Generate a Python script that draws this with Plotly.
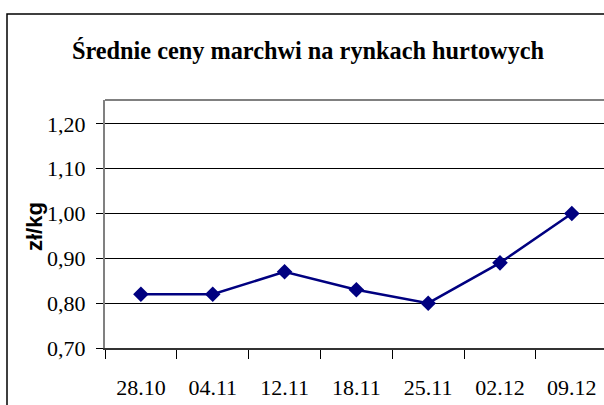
import plotly.graph_objects as go

categories = ["28.10", "04.11", "12.11", "18.11", "25.11", "02.12", "09.12"]
prices = [0.82, 0.82, 0.87, 0.83, 0.80, 0.89, 1.00]
title_text = "Średnie ceny marchwi na rynkach hurtowych"
y_title = "zł/kg"

W, H = 604, 405
ML, MR, MT, MB = 105, 0, 100, 57
pw = W - ML - MR
ph = H - MT - MB

SERIF = "Liberation Serif, Times New Roman, serif"
SANS = "Liberation Sans, Arial, sans-serif"

def px_x(x):
    return (x - ML) / pw

def px_y(y):
    return (H - MB - y) / ph

fig = go.Figure()
fig.add_trace(go.Scatter(
    x=categories, y=prices, mode="lines+markers",
    line=dict(color="#000080", width=2.5),
    marker=dict(symbol="diamond", size=12, color="#000080", line=dict(width=0)),
    hoverinfo="skip", showlegend=False,
))

fig.update_layout(
    width=W, height=H,
    margin=dict(l=ML, r=MR, t=MT, b=MB, pad=0),
    paper_bgcolor="white", plot_bgcolor="white",
    separators=",.",
    font=dict(family=SERIF, color="black"),
    title=dict(
        text="<b>" + title_text + "</b>",
        font=dict(family=SERIF, size=24.3, color="black"),
        x=308 / W, xanchor="center", xref="container",
        y=1 - 50 / H, yanchor="middle", yref="container",
    ),
    xaxis=dict(
        type="category",
        range=[-0.5, 6.448],
        tickson="boundaries",
        ticks="outside", ticklen=9, tickwidth=1, tickcolor="black",
        showgrid=False,
        showline=True, linecolor="#333333", linewidth=2,
        tickfont=dict(family=SERIF, size=22, color="black"),
        ticklabelstandoff=19,
        fixedrange=True,
    ),
    yaxis=dict(
        range=[0.70, 1.2533],
        tick0=0.7, dtick=0.1,
        tickformat=".2f",
        ticks="outside", ticklen=7, tickwidth=1, tickcolor="black",
        showgrid=True, gridcolor="black", gridwidth=1,
        zeroline=False,
        showline=True, linecolor="#808080", linewidth=2,
        tickfont=dict(family=SERIF, size=22, color="black"),
        ticklabelstandoff=6,
        fixedrange=True,
    ),
    annotations=[dict(
        text="<b>" + y_title + "</b>", textangle=-90,
        xref="paper", yref="paper",
        x=px_x(34), y=px_y(227), xanchor="center", yanchor="middle",
        showarrow=False,
        font=dict(family=SANS, size=22, color="black"),
    )],
    shapes=[
        dict(type="line", xref="paper", yref="paper",
             x0=0, x1=1.05, y0=1, y1=1,
             line=dict(color="#808080", width=2)),
        dict(type="rect", xref="paper", yref="paper",
             x0=px_x(7), x1=1.2, y0=px_y(14), y1=-0.5,
             line=dict(color="black", width=1.5), layer="below"),
    ],
)

fig.write_html("out.html",
               config={"displayModeBar": False, "staticPlot": True},
               post_script="document.body.style.margin='0';document.body.style.overflow='hidden';")
